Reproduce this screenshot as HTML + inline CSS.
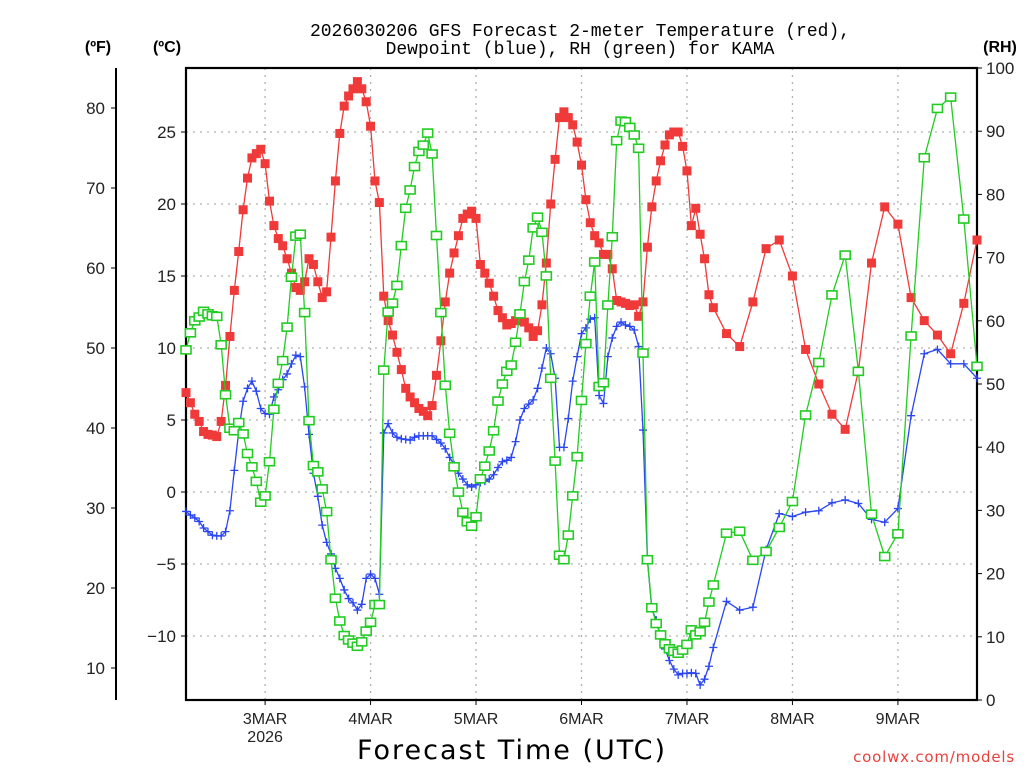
<!DOCTYPE html>
<html><head><meta charset="utf-8"><style>
html,body{margin:0;padding:0;background:#fff;width:1024px;height:768px;overflow:hidden}
svg{display:block}
text{font-family:"Liberation Sans",sans-serif}
</style></head><body>
<svg id="chart" width="1024" height="768" viewBox="0 0 1024 768" xmlns="http://www.w3.org/2000/svg">
<text x="580" y="36" text-anchor="middle" font-size="18" fill="#000" style="font-family:'Liberation Mono',monospace">2026030206 GFS Forecast 2-meter Temperature (red),</text>
<text x="580" y="54" text-anchor="middle" font-size="18" fill="#000" style="font-family:'Liberation Mono',monospace">Dewpoint (blue), RH (green) for KAMA</text>
<text x="98" y="52" text-anchor="middle" font-size="16" font-weight="bold">(ºF)</text>
<text x="167" y="52" text-anchor="middle" font-size="16" font-weight="bold">(ºC)</text>
<text x="1000" y="52" text-anchor="middle" font-size="16" font-weight="bold">(RH)</text>
<text x="512" y="759" text-anchor="middle" font-size="27" letter-spacing="2" style="font-family:'DejaVu Sans',sans-serif">Forecast Time (UTC)</text>
<text x="1015" y="762" text-anchor="end" font-size="15" fill="#e8413c" letter-spacing="0.8" style="font-family:'DejaVu Sans',sans-serif">coolwx.com/models</text>
<g id="grid"></g><g id="axes"></g><g id="series"></g>
</svg>
<script>
const hours=[0,1,2,3,4,5,6,7,8,9,10,11,12,13,14,15,16,17,18,19,20,21,22,23,24,25,26,27,28,29,30,31,32,33,34,35,36,37,38,39,40,41,42,43,44,45,46,47,48,49,50,51,52,53,54,55,56,57,58,59,60,61,62,63,64,65,66,67,68,69,70,71,72,73,74,75,76,77,78,79,80,81,82,83,84,85,86,87,88,89,90,91,92,93,94,95,96,97,98,99,100,101,102,103,104,105,106,107,108,109,110,111,112,113,114,115,116,117,118,119,120,123,126,129,132,135,138,141,144,147,150,153,156,159,162,165,168,171,174,177,180];
const tempC=[6.9,6.2,5.4,4.9,4.2,4.0,3.95,3.85,4.9,7.4,10.8,14.0,16.7,19.6,21.8,23.2,23.5,23.8,22.8,20.2,18.5,17.6,17.1,16.2,15.2,14.2,14.0,14.6,16.2,15.8,14.6,13.5,13.9,17.7,21.6,24.9,26.8,27.5,28.0,28.5,28.0,27.1,25.4,21.6,20.1,13.6,11.9,10.9,9.7,8.5,7.2,6.6,6.2,5.8,5.6,5.3,6.0,8.1,10.5,13.2,15.2,16.6,17.8,19.0,19.3,19.5,19.0,15.8,15.2,14.5,13.6,12.6,12.1,11.6,11.7,11.9,11.9,11.8,11.4,10.8,11.2,13.0,15.9,20.0,23.1,26.0,26.4,26.0,25.5,24.3,22.7,20.3,18.7,17.8,17.3,16.5,16.5,15.5,13.3,13.2,13.1,12.95,13.0,12.2,13.2,17.0,19.8,21.6,23.0,24.1,24.8,25.0,25.0,24.0,22.3,18.5,19.7,17.9,16.2,13.7,12.8,11.0,10.1,13.2,16.9,17.5,15.0,9.9,7.5,5.4,4.35,8.4,15.9,19.8,18.6,13.5,11.9,10.9,9.6,13.1,17.5];
const dewC=[-1.35,-1.6,-1.8,-2.05,-2.5,-2.75,-3.0,-3.05,-3.05,-2.75,-1.3,1.5,4.2,6.3,7.2,7.7,7.0,5.8,5.45,5.4,6.6,7.1,7.8,8.2,8.9,9.5,9.4,7.3,4.0,1.3,-0.3,-2.3,-3.5,-4.3,-5.3,-6.0,-6.8,-7.4,-7.7,-8.2,-7.8,-6.0,-5.7,-6.0,-7.1,4.1,4.75,4.1,3.8,3.7,3.65,3.6,3.8,3.9,3.9,3.9,3.9,3.65,3.4,3.0,2.4,1.9,1.3,0.9,0.5,0.35,0.5,0.65,0.75,0.9,1.2,1.7,2.1,2.2,2.4,3.5,5.0,5.8,6.1,6.4,7.2,8.6,10.0,9.6,7.9,3.1,3.1,5.1,7.7,9.4,11.0,11.4,12.0,12.1,6.7,6.15,9.4,10.7,11.5,11.8,11.6,11.5,11.25,10.1,4.3,-4.7,-8.1,-8.9,-10.0,-10.9,-11.7,-12.3,-12.7,-12.6,-12.6,-12.55,-12.6,-13.4,-13.0,-12.1,-10.8,-7.6,-8.2,-8.0,-4.0,-1.5,-1.7,-1.4,-1.3,-0.75,-0.55,-0.8,-1.9,-2.1,-1.15,5.3,9.6,9.9,8.9,8.9,7.9];
const rhPct=[55.4,58.1,60.0,60.6,61.5,61.1,60.8,60.7,56.2,48.3,43.0,42.6,43.9,42.1,39.0,36.9,34.6,31.3,32.3,37.7,46.0,50.1,53.7,59.0,66.9,73.4,73.7,61.3,44.2,37.1,36.1,33.4,29.8,22.2,16.1,12.5,10.2,9.5,9.0,8.5,9.2,10.9,12.3,15.1,15.1,52.2,61.4,62.8,65.6,71.9,77.8,80.7,84.4,86.8,87.8,89.7,86.4,73.5,61.3,49.8,42.2,36.9,32.9,29.7,28.2,27.5,29.0,35.0,37.0,39.4,42.6,47.3,50.0,52.0,53.0,56.6,61.1,66.2,69.6,74.7,76.4,74.0,67.1,50.9,37.8,22.9,22.2,26.1,32.3,38.5,47.4,56.4,63.9,69.3,49.6,50.2,62.5,73.3,88.5,91.6,91.5,90.6,89.4,87.3,54.9,22.2,14.6,12.1,10.3,8.9,8.1,7.7,7.4,7.9,8.8,11.1,10.3,10.8,12.3,15.5,18.2,26.4,26.7,22.1,23.5,27.3,31.4,45.1,53.4,64.1,70.4,52.0,29.4,22.7,26.3,57.6,85.8,93.6,95.4,76.1,52.8];
const dayLabels=["3MAR","4MAR","5MAR","6MAR","7MAR","8MAR","9MAR"];
const dayHours=[18,42,66,90,114,138,162];
const cTicks=[25,20,15,10,5,0,-5,-10];
const fTicks=[80,70,60,50,40,30,20,10];
const rhTicks=[100,90,80,70,60,50,40,30,20,10,0];

const L=186,R=977,T=68,B=700;
const xH=h=>L+h*(R-L)/180;
const yC=c=>492-c*14.4;
const yF=f=>yC((f-32)/1.8);
const yRH=r=>B-r*(B-T)/100;
const NS="http://www.w3.org/2000/svg";
function mk(tag,attrs,parent,txt){const e=document.createElementNS(NS,tag);for(const k in attrs)e.setAttribute(k,attrs[k]);if(txt!==undefined)e.textContent=txt;parent.appendChild(e);return e;}
const grid=document.getElementById('grid'),axes=document.getElementById('axes'),ser=document.getElementById('series');

cTicks.forEach(c=>{
 const y=yC(c);
 const g=mk('line',{x1:L,x2:R,y1:y,y2:y,stroke:'#b0b0b0','stroke-width':1.3,'stroke-dasharray':'2 5'},grid);
 
 
 const t=mk('line',{x1:L-5,x2:L,y1:y,y2:y,stroke:'#000','stroke-width':1},axes);
 
 
 const lb=mk('text',{x:L-10,y:y+6,'text-anchor':'end','font-size':17,fill:'#222'},axes,String(c).replace('-','\u2212'));
 
 
});
dayHours.forEach((h,i)=>{
 const x=xH(h);
 const g=mk('line',{x1:x,x2:x,y1:T,y2:B,stroke:'#b0b0b0','stroke-width':1.3,'stroke-dasharray':'2 5'},grid);
 
 
 const t=mk('line',{x1:x,x2:x,y1:B,y2:B+5,stroke:'#000','stroke-width':1},axes);
 
 
 const lb=mk('text',{x:x,y:724,'text-anchor':'middle','font-size':16,fill:'#222'},axes,dayLabels[i]);
 
 
});
const yr=mk('text',{x:xH(18),y:742,'text-anchor':'middle','font-size':16,fill:'#222'},axes,'2026');



const fl=mk('line',{x1:116,x2:116,y1:68,y2:700,stroke:'#000','stroke-width':2},axes);


fTicks.forEach(f=>{
 const y=yF(f);
 const t=mk('line',{x1:111,x2:116,y1:y,y2:y,stroke:'#000','stroke-width':1},axes);
 
 
 const lb=mk('text',{x:105,y:y+6,'text-anchor':'end','font-size':17,fill:'#222'},axes,String(f));
 
 
});
rhTicks.forEach(r=>{
 const y=yRH(r);
 const t=mk('line',{x1:R,x2:R+5,y1:y,y2:y,stroke:'#000','stroke-width':1},axes);
 
 
 const lb=mk('text',{x:R+9,y:y+6,'text-anchor':'start','font-size':17,fill:'#222'},axes,String(r));
 
 
});
const box=mk('rect',{x:L,y:T,width:R-L,height:B-T,fill:'none',stroke:'#000','stroke-width':2.2},axes);



function series(vals,yf,color,kind,name){
 const g=mk('g',{},ser);
 
 
 const pts=vals.map((v,i)=>xH(hours[i]).toFixed(1)+','+yf(v).toFixed(1)).join(' ');
 const pl=mk('polyline',{points:pts,fill:'none',stroke:color,'stroke-width':1.3},g);
 
 
 vals.forEach((v,i)=>{
  const x=xH(hours[i]),y=yf(v);let m;
  if(kind==='fill'){m=mk('rect',{x:x-4.5,y:y-4.5,width:9,height:9,fill:color},g);}
  else if(kind==='open'){m=mk('rect',{x:x-5,y:y-4,width:10,height:8,fill:'#fff',stroke:color,'stroke-width':1.6},g);}
  else{m=mk('path',{d:`M${x-4},${y}H${x+4}M${x},${y-4}V${y+4}`,stroke:color,'stroke-width':1.3,fill:'none'},g);}
  
  
 });
}
series(tempC,yC,'#f03a3a','fill','temperature');
series(dewC,yC,'#2a46f0','plus','dewpoint');
series(rhPct,yRH,'#22cc22','open','relative-humidity');
</script>
</body></html>
